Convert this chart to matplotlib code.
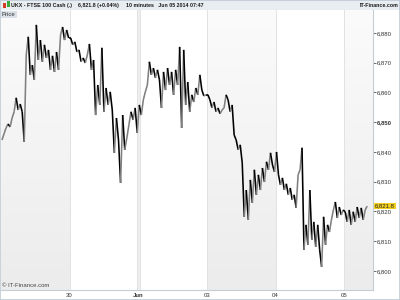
import numpy as np
import matplotlib
matplotlib.use("Agg")
import matplotlib.pyplot as plt
from matplotlib.collections import LineCollection
from matplotlib.colors import LinearSegmentedColormap
from matplotlib.patches import Rectangle
import matplotlib.transforms as mtransforms

plt.rcParams['font.family'] = ['Liberation Sans', 'DejaVu Sans']

# 10 minute prices, traced per trading day
may29 = [6844.0, 6846.1, 6848.1, 6849.4, 6848.4, 6851.4, 6853.5, 6858.2, 6854.1, 6856.1,
         6853.5, 6843.4, 6872.6, 6878.7, 6865.9, 6869.2, 6864.2, 6882.7, 6870.9, 6877.6,
         6870.3, 6876.0, 6871.6, 6874.3, 6867.6, 6872.3, 6866.9, 6873.6, 6867.6, 6879.3,
         6882.0, 6877.6, 6881.0, 6878.3]
may30 = [6878.3, 6876.0, 6877.0, 6873.6, 6874.3, 6870.3, 6871.6, 6869.9, 6872.6, 6876.3,
         6867.6, 6870.9, 6852.4, 6862.5, 6855.8, 6875.0, 6853.5, 6861.5, 6855.8, 6860.2,
         6854.1, 6839.7, 6851.4, 6844.0, 6829.6, 6852.4, 6840.7, 6844.7, 6849.1, 6853.5,
         6850.8, 6854.8, 6846.4]
jun02 = [6855.8, 6852.4, 6857.5, 6860.2, 6862.5, 6870.3, 6865.9, 6868.2, 6864.9, 6867.6,
         6864.2, 6854.8, 6866.9, 6860.8, 6868.2, 6862.5, 6866.9, 6859.2, 6867.6, 6862.5,
         6875.3, 6848.1, 6874.3, 6855.8, 6863.5, 6853.5, 6859.2, 6856.8, 6861.5, 6859.2,
         6865.9, 6860.8, 6858.8, 6859.2]
jun03 = [6859.2, 6857.5, 6854.8, 6856.8, 6853.5, 6854.8, 6852.8, 6854.1, 6854.8, 6859.2,
         6857.5, 6853.5, 6855.8, 6845.7, 6844.0, 6840.7, 6842.4, 6836.3, 6818.2, 6827.2,
         6817.2, 6830.6, 6822.9, 6834.0, 6825.6, 6832.3, 6827.2, 6834.6, 6829.9, 6836.7,
         6834.0, 6839.7, 6835.6, 6833.3]
jun04 = [6840.0, 6832.3, 6828.9, 6831.3, 6827.2, 6829.3, 6825.6, 6827.9, 6823.9, 6825.6,
         6821.2, 6832.3, 6834.0, 6841.4, 6807.1, 6815.5, 6808.8, 6827.2, 6810.4, 6816.5,
         6808.1, 6815.5, 6807.1, 6801.4, 6818.2, 6808.8, 6815.5, 6813.1, 6817.2, 6820.5,
         6823.2, 6817.8, 6821.5, 6818.8, 6820.5]
jun05 = [6819.9, 6816.5, 6820.5, 6815.5, 6819.9, 6816.5, 6821.5, 6817.8, 6821.2, 6817.2,
         6820.5, 6821.8]

days = [may29, may30, jun02, jun03, jun04, jun05]
day_cover = [1.0, 1.0, 1.0, 1.0, 1.0, 0.35]
day_ticks = [1, 2, 3, 4, 5]
day_labels = ['30', 'Jun', '03', '04', '05']
grey_days = [(0, 1), (3, 4), (5, 5.42)]
y_ticks = [6800, 6810, 6820, 6830, 6840, 6850, 6860, 6870, 6880]
last_price = 6821.8
change_pct = 0.04

x = []
y = []
for d, (vals, cover) in enumerate(zip(days, day_cover)):
    n = len(vals)
    x.extend(d + (np.arange(n) + 0.5) / n * cover)
    y.extend(vals)
x = np.array(x)
y = np.array(y)

fig = plt.figure(figsize=(4, 3), dpi=100)
fig.patch.set_facecolor('white')
ax = fig.add_axes([1 / 400, 10 / 300, 372 / 400, 280 / 300])
ax.set_xlim(0, 5.42)
ax.set_ylim(6793.6, 6887.7)

# day shading (light vertical gradient)
grad = np.linspace(0, 1, 100).reshape(-1, 1)
cmap = LinearSegmentedColormap.from_list('band', ['#ececec', '#fbfbfb'])
for a, b in grey_days:
    ax.imshow(grad, extent=(a, b, 6793.6, 6887.7), aspect='auto', cmap=cmap,
              origin='lower', zorder=0)
ax.axvspan(1.975, 2.02, color='#eeeeee', zorder=0, lw=0)
for xv in [1, 1.975, 2.02, 3, 4, 5]:
    ax.axvline(xv, color='#e2e2e2', lw=0.7, zorder=0.5)

pts = np.column_stack([x, y])
segs = np.stack([pts[:-1], pts[1:]], axis=1)
cols = np.where(np.diff(y) > 0, '#808080', '#000000')
ax.add_collection(LineCollection(segs, colors=cols, linewidths=1.15, zorder=2))

ax.yaxis.tick_right()
ax.set_yticks(y_ticks)
ax.set_yticklabels([f'{v:,}' for v in y_ticks])
for lab, v in zip(ax.get_yticklabels(), y_ticks):
    if v == 6850:
        lab.set_fontweight('bold')
ax.set_xticks(day_ticks)
ax.set_xticklabels(day_labels)
ax.get_xticklabels()[1].set_fontweight('bold')
ax.tick_params(axis='both', labelsize=4.3, colors='#333333', length=2, width=0.5, pad=1)
ax.tick_params(axis='x', length=0, pad=2)

for s in ['left', 'top']:
    ax.spines[s].set_visible(False)
for s in ['right', 'bottom']:
    ax.spines[s].set_color('#c4ccd4')
    ax.spines[s].set_linewidth(0.8)

trans = mtransforms.blended_transform_factory(ax.transAxes, ax.transData)
ax.text(1.006, last_price, f'{last_price:,.1f}', transform=trans, fontsize=4.3,
        va='center', ha='left', color='#222222', zorder=5,
        bbox=dict(boxstyle='square,pad=0.15', fc='#f2cf1f', ec='none'))

ax.text(0.003, 0.008, '© IT-Finance.com', transform=ax.transAxes, fontsize=4.3,
        color='#444444', va='bottom', ha='left')

# header bar
fig.patches.append(Rectangle((0, 1 - 10 / 300), 1, 10 / 300, transform=fig.transFigure,
                             fc='#e8edf2', ec='none', zorder=0))
fig.patches.append(Rectangle((3 / 400, 1 - 8 / 300), 3 / 400, 5 / 300,
                             transform=fig.transFigure, fc='#d83a2a', ec='none'))
fig.patches.append(Rectangle((6.5 / 400, 1 - 7 / 300), 3 / 400, 6 / 300,
                             transform=fig.transFigure, fc='#3aa83a', ec='none'))
hy = 1 - 5.5 / 300
hfs = 3.8
fig.text(11 / 400, hy, 'UKX - FTSE 100 Cash (.)', fontsize=hfs, fontweight='bold',
         va='center', color='#1a1a1a')
fig.text(78 / 400, hy, f'{last_price:,.1f} (+{change_pct:.2f}%)', fontsize=hfs,
         fontweight='bold', va='center', color='#1a1a1a')
fig.text(126 / 400, hy, '10 minutes   Jun 05 2014 07:47', fontsize=hfs, fontweight='bold',
         va='center', color='#1a1a1a')
fig.text(398 / 400, hy, 'IT-Finance.com', fontsize=hfs, fontweight='bold', va='center',
         ha='right', color='#1a1a1a')
fig.text(2 / 400, 1 - 14.5 / 300, 'Price', fontsize=4.3, va='center', color='#333333',
         bbox=dict(boxstyle='square,pad=0.2', fc='#d9e0e7', ec='none'))

fig.patches.append(Rectangle((0, 0), 1, 1, transform=fig.transFigure, fc='none',
                             ec='#c0cad4', lw=1.2))

fig.savefig('out.png', dpi=100)
